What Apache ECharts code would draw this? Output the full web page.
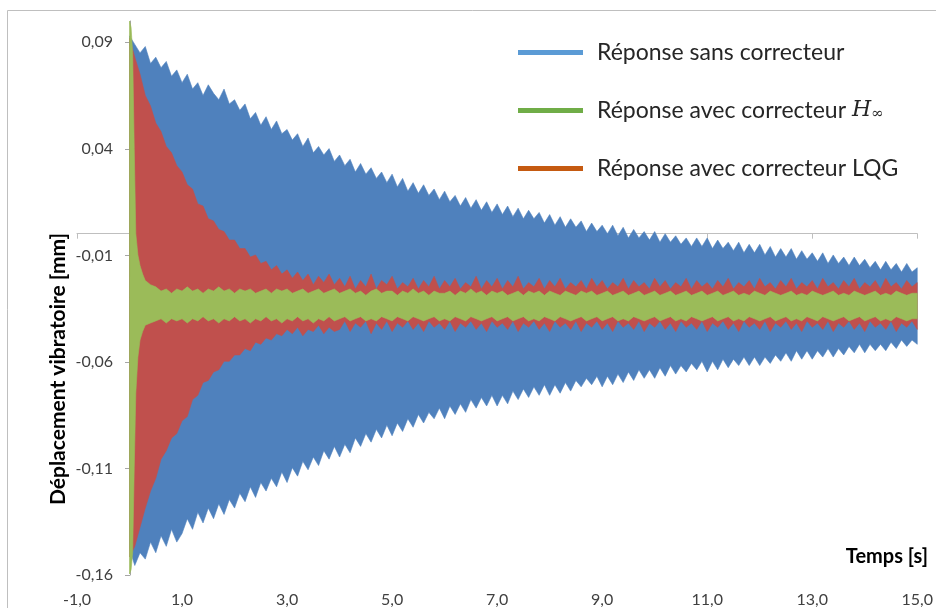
<!DOCTYPE html>
<html><head><meta charset="utf-8">
<script src="https://cdn.jsdelivr.net/npm/echarts@6/dist/echarts.min.js"></script>
<style>html,body{margin:0;padding:0;background:#fff;}#c{width:936px;height:608px;}</style>
</head><body><div id="c"></div>
<script>
// ---- tick labels ----
const xTicks = [-1, 1, 3, 5, 7, 9, 11, 13, 15];
const yTicks = [-0.16, -0.11, -0.06, -0.01, 0.04, 0.09];
const seriesNames = ['Réponse sans correcteur', 'Réponse avec correcteur H∞', 'Réponse avec correcteur LQG'];

// sample grid (s), 0.0 .. 15.0 every 0.1 s
const tGrid = [];
for (let i = 0; i <= 150; i++) tGrid.push(+(i * 0.1).toFixed(1));

// ---- envelope of "sans correcteur" (mm) ----
const blueTop = [
 0.093,0.089,0.085,0.088,0.080,0.083,0.078,0.081,0.074,0.077,
 0.071,0.075,0.068,0.071,0.065,0.070,0.066,0.063,0.068,0.061,
 0.063,0.058,0.061,0.054,0.057,0.051,0.055,0.049,0.053,0.047,
 0.049,0.044,0.047,0.041,0.045,0.038,0.041,0.037,0.040,0.034,
 0.037,0.032,0.035,0.029,0.033,0.028,0.031,0.026,0.029,0.024,
 0.028,0.022,0.026,0.020,0.024,0.019,0.023,0.018,0.021,0.016,
 0.020,0.015,0.018,0.013,0.017,0.012,0.016,0.011,0.015,0.010,
 0.014,0.009,0.013,0.008,0.012,0.007,0.011,0.007,0.010,0.005,
 0.009,0.004,0.008,0.003,0.007,0.003,0.006,0.001,0.005,0.001,
 0.004,0.000,0.004,-0.001,0.003,-0.002,0.002,-0.002,0.001,-0.003,
 0.001,-0.004,0.000,-0.004,-0.001,-0.005,-0.002,-0.006,-0.002,-0.006,
 -0.002,-0.007,-0.003,-0.007,-0.004,-0.008,-0.004,-0.009,-0.005,-0.009,
 -0.005,-0.010,-0.006,-0.011,-0.007,-0.011,-0.007,-0.012,-0.008,-0.012,
 -0.009,-0.013,-0.009,-0.014,-0.010,-0.014,-0.011,-0.015,-0.011,-0.015,
 -0.012,-0.016,-0.013,-0.017,-0.013,-0.017,-0.014,-0.018,-0.014,-0.018,
 -0.016];
const blueBottom = [
 -0.148,-0.156,-0.150,-0.153,-0.145,-0.150,-0.142,-0.147,-0.139,-0.145,
 -0.141,-0.134,-0.139,-0.131,-0.136,-0.129,-0.134,-0.127,-0.132,-0.125,
 -0.129,-0.122,-0.126,-0.119,-0.124,-0.117,-0.121,-0.115,-0.119,-0.112,
 -0.117,-0.110,-0.114,-0.107,-0.111,-0.105,-0.109,-0.102,-0.106,-0.100,
 -0.105,-0.099,-0.103,-0.096,-0.100,-0.094,-0.098,-0.092,-0.096,-0.090,
 -0.095,-0.089,-0.093,-0.087,-0.091,-0.085,-0.089,-0.084,-0.087,-0.082,
 -0.087,-0.081,-0.085,-0.080,-0.084,-0.078,-0.082,-0.077,-0.081,-0.076,
 -0.081,-0.076,-0.080,-0.074,-0.078,-0.073,-0.077,-0.072,-0.076,-0.071,
 -0.076,-0.071,-0.075,-0.070,-0.074,-0.069,-0.072,-0.068,-0.071,-0.067,
 -0.072,-0.067,-0.071,-0.066,-0.070,-0.065,-0.069,-0.064,-0.068,-0.064,
 -0.068,-0.063,-0.067,-0.062,-0.066,-0.062,-0.065,-0.061,-0.064,-0.060,
 -0.065,-0.060,-0.064,-0.059,-0.063,-0.059,-0.062,-0.058,-0.062,-0.058,
 -0.062,-0.058,-0.061,-0.057,-0.060,-0.056,-0.060,-0.055,-0.059,-0.055,
 -0.059,-0.055,-0.058,-0.054,-0.058,-0.054,-0.057,-0.053,-0.056,-0.052,
 -0.056,-0.052,-0.055,-0.052,-0.055,-0.051,-0.054,-0.050,-0.053,-0.050,
 -0.052];

// ---- envelope of "correcteur LQG" (mm) ----
const redTop = [
 0.092,0.083,0.075,0.065,0.060,0.052,0.048,0.041,0.038,0.032,
 0.029,0.023,0.021,0.014,0.013,0.007,0.006,0.002,0.001,-0.003,
 -0.003,-0.007,-0.007,-0.011,-0.010,-0.014,-0.013,-0.017,-0.015,-0.019,
 -0.017,-0.021,-0.018,-0.022,-0.019,-0.024,-0.020,-0.023,-0.019,-0.024,
 -0.021,-0.025,-0.020,-0.026,-0.022,-0.025,-0.019,-0.026,-0.022,-0.024,
 -0.020,-0.026,-0.023,-0.025,-0.021,-0.026,-0.022,-0.025,-0.020,-0.026,
 -0.022,-0.025,-0.021,-0.026,-0.023,-0.025,-0.020,-0.026,-0.022,-0.025,
 -0.021,-0.026,-0.022,-0.025,-0.020,-0.026,-0.023,-0.025,-0.021,-0.026,
 -0.022,-0.025,-0.021,-0.026,-0.023,-0.025,-0.022,-0.026,-0.021,-0.025,
 -0.022,-0.026,-0.023,-0.025,-0.021,-0.026,-0.022,-0.025,-0.023,-0.026,
 -0.021,-0.025,-0.022,-0.026,-0.023,-0.025,-0.021,-0.026,-0.022,-0.025,
 -0.023,-0.026,-0.022,-0.025,-0.021,-0.026,-0.023,-0.025,-0.022,-0.026,
 -0.021,-0.025,-0.023,-0.026,-0.022,-0.025,-0.021,-0.026,-0.023,-0.025,
 -0.022,-0.026,-0.021,-0.025,-0.023,-0.026,-0.022,-0.025,-0.021,-0.026,
 -0.023,-0.025,-0.022,-0.026,-0.021,-0.025,-0.023,-0.026,-0.022,-0.025,
 -0.023];
const redBottom = [
 -0.152,-0.147,-0.138,-0.129,-0.121,-0.115,-0.106,-0.102,-0.096,-0.094,
 -0.088,-0.086,-0.078,-0.076,-0.070,-0.069,-0.065,-0.064,-0.060,-0.060,
 -0.057,-0.057,-0.054,-0.055,-0.051,-0.052,-0.049,-0.050,-0.047,-0.048,
 -0.045,-0.047,-0.044,-0.048,-0.045,-0.046,-0.043,-0.047,-0.044,-0.046,
 -0.045,-0.041,-0.046,-0.042,-0.044,-0.041,-0.047,-0.042,-0.045,-0.041,
 -0.046,-0.042,-0.044,-0.041,-0.045,-0.042,-0.046,-0.041,-0.044,-0.042,
 -0.045,-0.041,-0.046,-0.042,-0.044,-0.041,-0.045,-0.042,-0.046,-0.041,
 -0.044,-0.042,-0.045,-0.041,-0.046,-0.042,-0.044,-0.041,-0.045,-0.042,
 -0.046,-0.041,-0.044,-0.042,-0.045,-0.041,-0.046,-0.042,-0.044,-0.041,
 -0.045,-0.042,-0.046,-0.041,-0.044,-0.042,-0.045,-0.041,-0.046,-0.042,
 -0.044,-0.041,-0.045,-0.042,-0.046,-0.041,-0.044,-0.042,-0.045,-0.041,
 -0.046,-0.042,-0.044,-0.041,-0.045,-0.042,-0.046,-0.041,-0.044,-0.042,
 -0.045,-0.041,-0.046,-0.042,-0.044,-0.041,-0.045,-0.042,-0.046,-0.041,
 -0.044,-0.042,-0.045,-0.041,-0.046,-0.042,-0.044,-0.041,-0.045,-0.042,
 -0.046,-0.041,-0.044,-0.042,-0.045,-0.041,-0.046,-0.042,-0.044,-0.041,
 -0.045];

// ---- envelope of "correcteur H∞" (mm) ----
const tGreen = [0, 0.03, 0.06, 0.09, 0.12, 0.16, 0.2, 0.25, 0.3, 0.4];
for (let i = 5; i <= 150; i++) tGreen.push(+(i * 0.1).toFixed(1));
const greenTop = [
 0.100,0.097,0.085,0.040,0.000,-0.010,-0.015,-0.019,-0.022,-0.024,
 -0.025,-0.027,-0.026,-0.028,-0.026,
 -0.027,-0.025,-0.027,-0.026,-0.028,-0.026,-0.027,-0.025,-0.027,-0.026,
 -0.028,-0.026,-0.027,-0.026,-0.028,-0.027,-0.026,-0.028,-0.026,-0.027,
 -0.026,-0.028,-0.027,-0.026,-0.028,-0.027,-0.026,-0.028,-0.027,-0.026,
 -0.028,-0.027,-0.026,-0.028,-0.027,-0.029,-0.027,-0.026,-0.028,-0.027,
 -0.027,-0.029,-0.027,-0.028,-0.026,-0.028,-0.027,-0.029,-0.027,-0.028,
 -0.028,-0.027,-0.029,-0.027,-0.028,-0.026,-0.028,-0.027,-0.029,-0.027,
 -0.028,-0.027,-0.029,-0.028,-0.027,-0.029,-0.027,-0.028,-0.027,-0.029,
 -0.027,-0.028,-0.029,-0.027,-0.028,-0.029,-0.027,-0.028,-0.027,-0.029,
 -0.028,-0.027,-0.029,-0.028,-0.027,-0.029,-0.028,-0.027,-0.029,-0.028,
 -0.027,-0.029,-0.028,-0.027,-0.029,-0.028,-0.027,-0.029,-0.028,-0.027,
 -0.029,-0.028,-0.027,-0.029,-0.028,-0.027,-0.029,-0.028,-0.029,-0.027,
 -0.028,-0.029,-0.027,-0.028,-0.029,-0.028,-0.027,-0.029,-0.028,-0.029,
 -0.027,-0.028,-0.029,-0.028,-0.027,-0.029,-0.028,-0.029,-0.027,-0.028,
 -0.029,-0.028,-0.027,-0.029,-0.028,-0.029,-0.027,-0.028,-0.029,-0.028,
 -0.028];
const greenBottom = [
 -0.160,-0.158,-0.150,-0.110,-0.075,-0.058,-0.050,-0.046,-0.043,-0.042,
 -0.041,-0.040,-0.042,-0.040,-0.041,
 -0.040,-0.042,-0.040,-0.041,-0.039,-0.041,-0.040,-0.042,-0.040,-0.041,
 -0.039,-0.041,-0.040,-0.042,-0.040,-0.041,-0.039,-0.041,-0.040,-0.042,
 -0.040,-0.041,-0.039,-0.041,-0.040,-0.042,-0.040,-0.041,-0.039,-0.041,
 -0.040,-0.039,-0.041,-0.040,-0.039,-0.041,-0.040,-0.041,-0.039,-0.040,
 -0.041,-0.039,-0.040,-0.041,-0.039,-0.040,-0.041,-0.040,-0.039,-0.041,
 -0.040,-0.041,-0.039,-0.040,-0.041,-0.039,-0.040,-0.041,-0.040,-0.039,
 -0.041,-0.040,-0.039,-0.041,-0.040,-0.039,-0.041,-0.040,-0.041,-0.039,
 -0.040,-0.041,-0.039,-0.040,-0.041,-0.040,-0.039,-0.041,-0.040,-0.039,
 -0.041,-0.040,-0.039,-0.041,-0.040,-0.041,-0.039,-0.040,-0.041,-0.040,
 -0.039,-0.041,-0.040,-0.039,-0.041,-0.040,-0.041,-0.039,-0.040,-0.041,
 -0.040,-0.039,-0.041,-0.040,-0.039,-0.041,-0.040,-0.041,-0.039,-0.040,
 -0.041,-0.040,-0.039,-0.041,-0.040,-0.039,-0.041,-0.040,-0.041,-0.039,
 -0.040,-0.041,-0.039,-0.040,-0.041,-0.040,-0.039,-0.041,-0.040,-0.039,
 -0.041,-0.040,-0.039,-0.041,-0.040,-0.041,-0.039,-0.040,-0.041,-0.040,
 -0.040];

const FONT = 'Lato';
const fmt = (v, d) => v.toFixed(d).replace('.', ',');

function band(name, color, t, hi, lo, z) {
  return {
    type: 'custom', name: name, z: z, xAxisIndex: 0, yAxisIndex: 0,
    data: t.map((x, i) => [x, hi[i], lo[i]]),
    encode: { x: 0, y: [1, 2] },
    itemStyle: { color: color },
    clip: true, silent: true,
    renderItem: function (params, api) {
      if (params.dataIndex !== 0) return null;
      const pts = [];
      for (let i = 0; i < t.length; i++) pts.push(api.coord([t[i], hi[i]]));
      for (let i = t.length - 1; i >= 0; i--) pts.push(api.coord([t[i], lo[i]]));
      return { type: 'polygon', shape: { points: pts }, style: { fill: color, stroke: color, lineWidth: 0.6 } };
    }
  };
}

// plot grid: x from -1 (px 77) to 15 (px 925); second grid hosts the y axis drawn at x = 0
const GL = 77, GR = 11, GT = 21, GB = 33;
const zeroPx = GL + (0 - (-1)) / 16 * (936 - GL - GR);

const chart = echarts.init(document.getElementById('c'), null, { renderer: 'canvas' });
chart.setOption({
  animation: false,
  backgroundColor: '#fff',
  grid: [
    { left: GL, right: GR, top: GT, bottom: GB, containLabel: false },
    { left: zeroPx, width: 1, top: GT, bottom: GB, containLabel: false }
  ],
  xAxis: [
    { type: 'value', gridIndex: 0, min: -1, max: 15, position: 'bottom',
      axisLine: { show: true, onZero: true, onZeroAxisIndex: 0, lineStyle: { color: '#BFBFBF', width: 1 } },
      axisTick: { show: true, customValues: xTicks, length: 5, lineStyle: { color: '#BFBFBF' } },
      axisLabel: { show: false }, splitLine: { show: false } },
    { type: 'value', gridIndex: 0, min: -1, max: 15, position: 'bottom',
      axisLine: { show: false, onZero: false },
      axisTick: { show: false },
      axisLabel: { customValues: xTicks, formatter: v => fmt(v, 1), fontFamily: FONT, fontSize: 16, color: '#404040', margin: 18 },
      splitLine: { show: false } },
    { type: 'value', gridIndex: 1, min: 0, max: 1, show: false }
  ],
  yAxis: [
    { type: 'value', gridIndex: 0, min: -0.16, max: 0.10,
      axisLine: { show: false, onZero: false }, axisTick: { show: false }, axisLabel: { show: false }, splitLine: { show: false } },
    { type: 'value', gridIndex: 1, min: -0.16, max: 0.10, position: 'left',
      axisLine: { show: true, onZero: false, lineStyle: { color: '#A6A6A6', width: 1 } },
      axisTick: { show: true, customValues: yTicks, length: 5, lineStyle: { color: '#A6A6A6' } },
      axisLabel: { customValues: yTicks, formatter: v => fmt(v, 2), fontFamily: FONT, fontSize: 16, color: '#404040', margin: 17 },
      splitLine: { show: false } }
  ],
  legend: {
    orient: 'vertical', left: 518, top: 41, padding: 0, itemGap: 35, itemWidth: 65, itemHeight: 5, icon: 'rect',
    selectedMode: false,
    data: [
      { name: seriesNames[0], itemStyle: { color: '#5B9BD5' } },
      { name: seriesNames[1], itemStyle: { color: '#70AD47' } },
      { name: seriesNames[2], itemStyle: { color: '#C55A11' } }
    ],
    formatter: function (name) {
      if (name === seriesNames[1]) return '{n|Réponse avec correcteur }{h|H}{s|∞}';
      return '{n|' + name + '}';
    },
    textStyle: { fontFamily: FONT, fontSize: 23, color: '#262626', padding: [0, 0, 0, 9],
      rich: {
        n: { fontFamily: FONT, fontSize: 23, color: '#262626' },
        h: { fontFamily: 'DejaVu Serif', fontStyle: 'italic', fontSize: 22, color: '#262626' },
        s: { fontFamily: 'DejaVu Serif', fontStyle: 'italic', fontSize: 15, color: '#262626', padding: [8, 0, 0, 0] }
      } }
  },
  graphic: [
    { type: 'rect', silent: true, z: -10, shape: { x: 7.5, y: 10.5, width: 940, height: 640 }, style: { fill: 'none', stroke: '#BFBFBF', lineWidth: 1 } },
    { type: 'text', silent: true, x: 58, y: 369, rotation: Math.PI / 2,
      style: { text: 'Déplacement vibratoire [mm]', fontFamily: FONT, fontWeight: 'bold', fontSize: 21, fill: '#000', align: 'center', verticalAlign: 'middle' } },
    { type: 'text', silent: true, x: 928, y: 557,
      style: { text: 'Temps [s]', fontFamily: FONT, fontWeight: 'bold', fontSize: 20, fill: '#000', align: 'right', verticalAlign: 'middle' } }
  ],
  series: [
    band(seriesNames[0], '#4F81BD', tGrid, blueTop, blueBottom, 2),
    band(seriesNames[2], '#C0504D', tGrid, redTop, redBottom, 3),
    band(seriesNames[1], '#9BBB59', tGreen, greenTop, greenBottom, 4)
  ]
});
</script>
</body></html>
